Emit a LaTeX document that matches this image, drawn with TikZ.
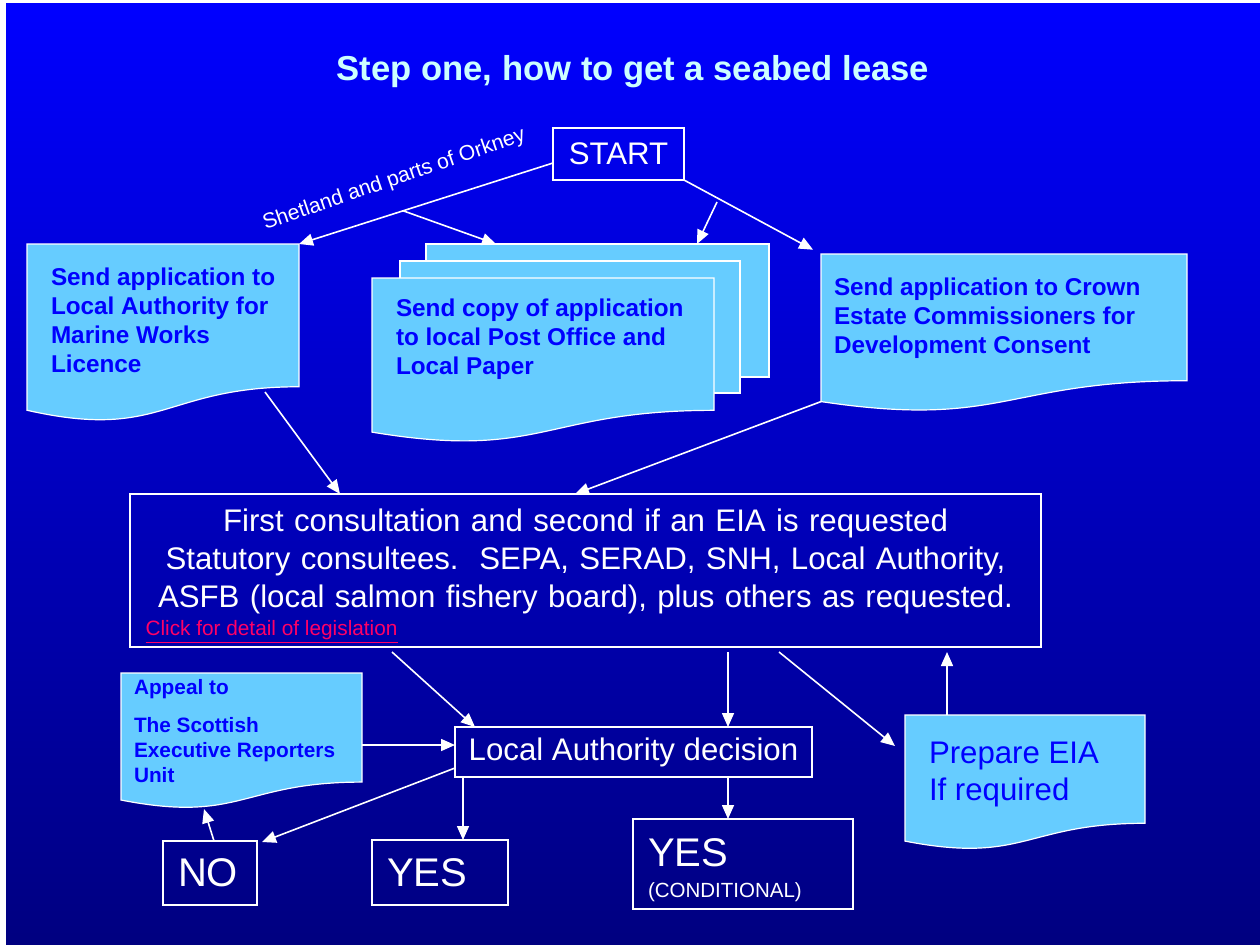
\documentclass[tikz,border=0pt]{standalone}
\usepackage{fontspec}
\setmainfont{Liberation Sans}
\usetikzlibrary{arrows.meta,calc,backgrounds}

\definecolor{bgtop}{RGB}{0,0,255}
\definecolor{bgbot}{RGB}{0,0,128}
\definecolor{skyfill}{RGB}{102,204,255}
\definecolor{docblue}{RGB}{0,0,255}
\definecolor{titlecyan}{RGB}{204,255,255}
\definecolor{linkred}{RGB}{255,0,102}

\newcommand{\bigtext}{\fontsize{15.6}{19}\selectfont}
\newcommand{\hugetext}{\fontsize{20}{15.5}\selectfont}
\newcommand{\doctext}{\bfseries\fontsize{12.15}{14.5}\selectfont}
% width, height, left pad, top pad, lines
\newcommand{\docbox}[5]{\parbox[t][#2][t]{#1}{\vspace*{#4}\raggedright\leftskip=#3\relax #5}}
% flowchart "document" outline behind a node
\newcommand{\docoutline}[1]{%
  \path[docline] (#1.north west) -- (#1.north east)
    -- ($(#1.north east)!0.802!(#1.south east)$)
    .. controls ($(#1.north)!0.802!(#1.south)$) and ($(#1.north)!1.107!(#1.south)$)
    .. ($(#1.north west)!0.934!(#1.south west)$) -- cycle;}

\begin{document}
\begin{tikzpicture}[
  x=0.5pt, y=-0.5pt,
  box/.style={draw=white, line width=0.75pt, text=white, inner sep=0pt, outer sep=0pt},
  tbox/.style={align=left, inner xsep=7.5pt, inner ysep=0pt, font=\hugetext},
  docu/.style={anchor=north west, inner sep=0pt, outer sep=0pt, text=docblue, font=\doctext},
  docline/.style={fill=skyfill, draw=white, line width=0.6pt},
  sheet/.style={docline, anchor=north west, inner sep=0pt, outer sep=0pt},
  arr/.style={-{Triangle[length=7pt,width=6pt]}, white, line width=0.8pt}]

% slide background and the stacked sheets
\begin{scope}[on background layer]
  \fill[white] (0,0) rectangle (1260,944);
  \fill[top color=bgtop, bottom color=bgbot] (6,3) rectangle (1260,944);
  \node[sheet, minimum width=171.5pt, minimum height=66.5pt] (post3) at (426,244) {};
  \node[sheet, minimum width=170pt, minimum height=66pt] (post2) at (400,261) {};
\end{scope}

\node[anchor=base, text=titlecyan, font=\bfseries\fontsize{17.3}{20}\selectfont] (title)
  at (633,80) {Step one, how to get a seabed lease};

% applications
\node[box, minimum width=65.5pt, minimum height=26pt, font=\bigtext] (start) at (618.5,154) {START};
\node[docu] (la) at (27,244)
  {\docbox{136pt}{89pt}{12pt}{12pt}{Send application to\\Local Authority for\\Marine Works\\Licence}};
\node[docu] (post) at (372,278)
  {\docbox{171pt}{82.5pt}{12pt}{10.5pt}{Send copy of application\\to local Post Office and\\Local Paper}};
\node[docu] (crown) at (821,254)
  {\docbox{183pt}{79pt}{6.5pt}{12pt}{Send application to Crown\\Estate Commissioners for\\Development Consent}};
\node[anchor=base, rotate=19, text=white, font=\fontsize{10.6}{12}\selectfont] (shet)
  at (396,185) {Shetland and parts of Orkney};

% consultation
\node[box, minimum width=455.5pt, minimum height=76.5pt, text width=445pt, align=center,
      font=\bigtext] (consult) at (585.5,570.5)
  {\rule{0pt}{17.2pt}First consultation and second if an EIA is requested\\
   Statutory consultees.\ \ SEPA, SERAD, SNH, Local Authority,\\
   ASFB (local salmon fishery board), plus others as requested.\\[-5pt]
   \makebox[440pt][l]{\fontsize{10.4}{12}\selectfont\spaceskip=0pt\xspaceskip=0pt\relax
     \color{linkred}\underline{Click for detail of legislation}}};
\node[docu, text=docblue, font=\fontsize{15.6}{18.5}\selectfont] (eia) at (905,715)
  {\docbox{120pt}{67.5pt}{12pt}{13.5pt}{Prepare EIA\\If required}};

% decision
\node[box, minimum width=178.5pt, minimum height=25pt, font=\bigtext] (decision) at (633.5,752)
  {Local Authority decision};
\node[docu, font=\bfseries\fontsize{10.4}{12.5}\selectfont] (appeal) at (121,673)
  {\docbox{120.5pt}{68pt}{6.5pt}{3pt}{Appeal to\\[6.5pt]The Scottish\\Executive Reporters\\Unit}};
\node[box, tbox, text width=32pt, minimum height=32pt] (no) at (210,873) {NO};
\node[box, tbox, text width=53pt, minimum height=32.5pt] (yes) at (440,872.5) {YES};
\node[box, tbox, text width=95pt, minimum height=45pt] (yesc) at (743,864)
  {\rule{0pt}{20.5pt}YES\\{\fontsize{10.25}{12}\selectfont (CONDITIONAL)}};

\begin{scope}[on background layer]
  \foreach \d in {la,post,crown,appeal,eia} {\docoutline{\d}}
\end{scope}

% connectors
\draw[arr] ($(start.west)+(0,9)$) coordinate (s0) -- (la.north east);
\draw[arr] ($(s0)!0.59!(la.north east)$) -- ($(post3.north west)+(70,0)$);
\coordinate (hop) at (717,202);
\draw[arr] (hop) -- ($(post3.north west)+(271,0)$);
\draw[arr, shorten >=4.5pt] (start.south east) -- (crown.north west);
\draw[arr] ($(la.south east)+(-34,-30)$) -- ($(consult.north west)+(210,0)$);
\draw[arr] ($(crown.north west)!0.934!(crown.south west)$) -- ($(consult.north west)+(445,0)$);
\draw[arr] ($(consult.south west)+(262,5)$) -- ($(decision.north west)+(20,0)$);
\path ($(decision.north west)+(273,0)$) coordinate (d1);
\draw[arr, shorten <=2.5pt] (d1 |- consult.south) -- (d1);
\draw[arr] ($(consult.south west)+(649,5)$) -- ($(eia.north west)+(-10,31)$);
\path ($(eia.north west)+(42,0)$) coordinate (e1);
\draw[arr, shorten >=2.5pt] (e1) -- (e1 |- consult.south);
\path ($(appeal.north east)+(0,72)$) coordinate (a1);
\draw[arr] (a1) -- (a1 -| decision.west);
\draw[arr] ($(decision.west)+(0,16)$) -- ($(no.north east)+(5,1)$);
\path ($(decision.south west)+(8,0)$) coordinate (d2);
\draw[arr] (d2) -- (d2 |- yes.north);
\draw[arr] (d1 |- decision.south) -- (d1 |- yesc.north);
\draw[arr] ($(no.north)+(4,0)$) -- ($(appeal.south west)+(83,0)$);
\end{tikzpicture}
\end{document}
